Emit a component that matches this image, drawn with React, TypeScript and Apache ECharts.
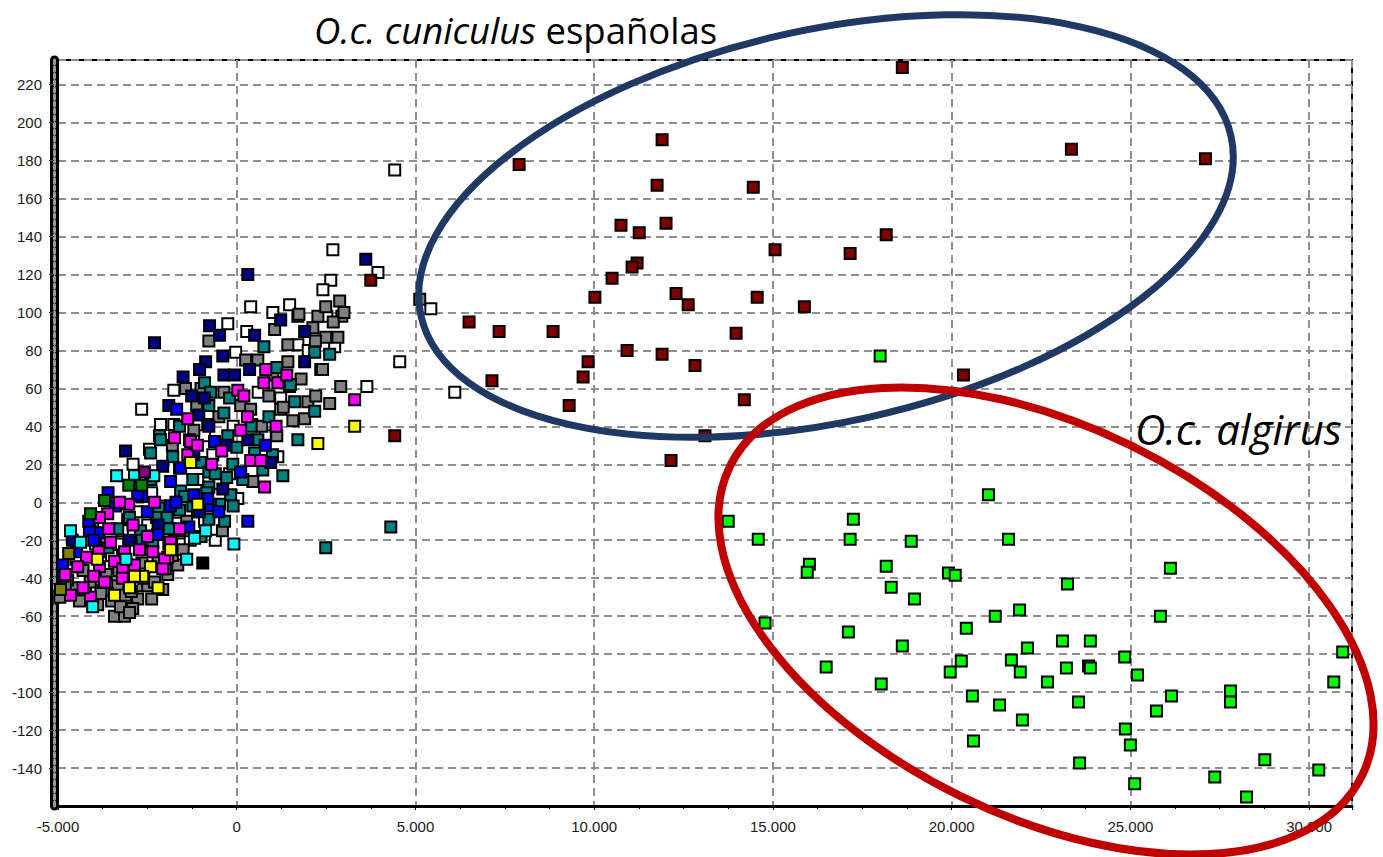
import React, { useEffect, useRef } from "react";
import * as echarts from "echarts";

// ---- data (x in units, y in units) ----
const whitePts = [[-250,94],[280,90],[-30,79],[-1760,59],[-2660,49],[-2130,41],[-1760,41],[-900,35],[-2440,28],[2520,98],[2740,82],[2350,70],[1230,55],[1230,49],[3640,61],[4560,74],[2690,133],[3950,121],[2630,117],[2410,112],[390,103],[1480,104],[1010,100],[4420,175],[5430,102],[6100,58],[1150,24],[-2380,5],[-1650,-11],[-3330,-22],[-2490,-12],[-1510,-22],[-3050,-9],[-2070,-14],[-1090,12],[30,2],[-670,25],[1710,83],[-500,10],[-1100,-5],[-4500,-30],[-3950,-22],[-3200,-15],[-2800,-5],[-2500,-30],[-1300,-20],[-900,-10],[-100,40],[600,58],[-1600,18],[-2900,20],[2000,80],[800,35],[-600,-20],[-3500,-28],[-2000,-2],[-200,15]];
const grayPts = [[-780,85],[250,75],[-1430,60],[-360,58],[-1120,51],[110,51],[390,49],[420,41],[1710,98],[2270,98],[2940,98],[2490,87],[2830,87],[1430,74],[1480,61],[900,56],[1990,53],[2210,56],[2600,52],[2910,61],[1900,44],[1570,43],[1120,35],[1060,91],[1740,99],[2880,106],[2490,103],[5120,107],[450,11],[-4030,-11],[-4590,-45],[-4230,-46],[-3720,-44],[-3330,-44],[-2770,-44],[-2490,-44],[-3110,-49],[-2380,-51],[-3420,-60],[-3140,-60],[-5010,-38],[-4730,-41],[-4310,-51],[-3890,-54],[-3610,-48],[-2770,-51],[-2070,-46],[-2910,-56],[-3890,-41],[-1930,-38],[-1650,-33],[2130,92],[1430,83],[590,75],[1010,67],[-4800,-44],[-4400,-52],[-4100,-42],[-3800,-48],[-3500,-52],[-3250,-55],[-2950,-47],[-2600,-40],[-2300,-42],[-2000,-35],[-1800,-28],[-1500,-25],[-3650,-38],[-4300,-36],[-2200,-30],[700,40],[1300,50],[2400,70],[2700,95],[3000,100],[1800,65],[-500,45],[-1800,30],[-1200,38],[-400,-15],[-1400,-10],[-3300,-36],[-2650,-32],[-4950,-50],[-3000,-58],[2200,85],[-1000,60]];
const tealPts = [[760,82],[2180,79],[1120,71],[-900,63],[-730,58],[-780,51],[-360,47],[-2160,35],[-250,35],[1620,53],[2180,48],[0,29],[500,26],[-2130,33],[-1320,33],[-2410,26],[-1790,24],[-1010,21],[-780,16],[-280,13],[170,12],[1290,14],[-1230,12],[-780,8],[-170,4],[-480,-1],[-1600,-4],[-2180,-3],[-1570,6],[-840,5],[-1230,-2],[-340,-10],[-780,-9],[-2240,-8],[-1740,-15],[-2690,-15],[-2350,-21],[-1460,3],[4310,-13],[2490,-24],[-3330,-14],[590,33],[1710,33],[-110,20],[730,17],[-3600,-24],[-2650,-20],[-1950,-8],[-1450,-15],[-1000,-18],[-600,15],[-200,55],[400,40],[900,45],[1500,62],[2600,78],[-1600,40],[-2400,12],[-3000,-8],[-1900,-14],[-100,-2],[1000,25]];
const navyPts = [[-2300,84],[-760,93],[-480,88],[-870,74],[-390,77],[-1040,70],[-360,67],[-60,67],[360,70],[-1260,56],[-1900,51],[-1060,46],[-810,41],[310,120],[3610,128],[1230,96],[1900,90],[1900,74],[-3110,27],[-2070,19],[-1040,-5],[950,21],[-780,40],[-390,7],[310,33],[-4600,-20],[-3000,-20],[-2200,-12],[-1200,25],[-300,30],[500,88],[-1500,66],[-900,55]];
const bluePts = [[-1680,49],[-620,32],[-1570,18],[-2660,3],[-1850,-2],[-3860,-16],[-4120,-15],[-1340,-13],[-4480,-26],[-4870,-33],[-4870,-39],[310,-10],[-3390,-2],[-4140,-10],[-1850,11],[-2770,4],[-1200,4],[-730,-2],[110,16],[-810,2],[-2210,-17],[-4000,-20],[-2500,-5],[-1700,0],[-500,-5],[800,30],[-3600,5]];
const magentaPts = [[30,59],[200,56],[760,63],[1150,63],[110,38],[-1370,44],[-1740,34],[-1290,32],[-420,27],[-1370,25],[-700,20],[780,8],[390,22],[670,22],[810,70],[1400,67],[3300,54],[-3020,-1],[-3610,-6],[-3580,-14],[-3530,-21],[-3140,-26],[-2720,-25],[-2350,-26],[-1900,-22],[-3860,-26],[-4200,-29],[-4450,-34],[-3420,-31],[-3190,-35],[-3840,-34],[-2860,-33],[-1930,-29],[-4000,-39],[-4650,-49],[-4090,-50],[-1850,-21],[-2020,-30],[-3280,0],[-3840,-8],[-2070,-35],[-4300,-45],[-3700,-42],[-2500,-18],[-1600,-14],[-2900,-12],[-1100,30],[300,45],[1100,40],[-4800,-38],[-2300,0],[-3200,-40]];
const cyanPts = [[-3360,14],[-2860,14],[-2320,14],[-4370,-21],[-80,-22],[-870,-15],[-1180,-19],[-4030,-55],[-4650,-15],[-3100,-30],[-1400,-30]];
const darkGreenPts = [[-3020,9],[-2660,9],[-3700,1],[-4090,-6]];
const yellowPts = [[-1090,-1],[-1850,-25],[-2410,-34],[-2630,-39],[-2860,-39],[-3420,-49],[3300,40],[2270,31],[-1290,21],[-3900,-30],[-3000,-45],[-2200,-45]];
const olivePts = [[-4700,-27],[-4930,-46]];
const blackPts = [[-950,-32]];
const purplePts = [[-2580,16]];
const maroonPts = [[18620,229],[11900,191],[7900,178],[23350,186],[27100,181],[11760,167],[14450,166],[10750,146],[11260,142],[12010,147],[18170,141],[15060,133],[17160,131],[11200,126],[11060,124],[10500,118],[12290,110],[12630,104],[10020,108],[14560,108],[15880,103],[6500,95],[7340,90],[8850,90],[13970,89],[10920,80],[11900,78],[9830,74],[12820,72],[9690,66],[7140,64],[20330,67],[14200,54],[9300,51],[13100,35],[12150,22],[3750,117],[4420,35]];
const limePts = [[18000,77],[21030,4],[13750,-10],[17250,-9],[14590,-19.5],[17160,-19.5],[18870,-20.5],[21590,-19.5],[16020,-32.6],[15960,-36.8],[18170,-33.7],[19910,-37.3],[20100,-38.4],[26120,-34.7],[23240,-43.1],[18310,-44.7],[18960,-51],[21900,-56.8],[21220,-60],[25840,-60],[14780,-63.6],[20410,-66.3],[18620,-75.7],[17110,-68.4],[16490,-86.8],[19960,-89.4],[20270,-83.6],[22120,-76.8],[21670,-83.1],[21920,-89.4],[22680,-94.7],[23100,-73.1],[23880,-73.1],[23210,-87.3],[23830,-86.3],[23880,-87.3],[24840,-81.5],[25200,-91],[30940,-78.9],[30690,-94.7],[20580,-102],[21340,-106.8],[23550,-105.2],[21980,-114.7],[26150,-102],[25730,-110],[27800,-99.4],[27800,-105.2],[24860,-119.4],[20610,-125.7],[25000,-127.8],[28760,-135.7],[23580,-137.3],[27360,-144.7],[30270,-141],[25120,-148.3],[28250,-155.2],[18030,-95.7]];

const groups: [string, number[][], string][] = [
  ["white", whitePts, "#ffffff"],
  ["gray", grayPts, "#808080"],
  ["teal", tealPts, "#008080"],
  ["navy", navyPts, "#000080"],
  ["blue", bluePts, "#0000ff"],
  ["magenta", magentaPts, "#ff00ff"],
  ["cyan", cyanPts, "#00ffff"],
  ["green", darkGreenPts, "#008000"],
  ["yellow", yellowPts, "#ffff00"],
  ["olive", olivePts, "#808000"],
  ["black", blackPts, "#000000"],
  ["purple", purplePts, "#800080"],
  ["maroon", maroonPts, "#800000"],
  ["lime", limePts, "#00ff00"],
];

const X_MIN = -5000, X_MAX = 31200, Y_MIN = -160, Y_MAX = 233;

function fmtX(v: number): string {
  if (v % 5000 !== 0) return "";
  if (v === 0) return "0";
  const s = Math.abs(v).toString();
  const t = s.replace(/\B(?=(\d{3})+(?!\d))/g, ".");
  return (v < 0 ? "-" : "") + t;
}

export default function App() {
  const ref = useRef<HTMLDivElement>(null);
  useEffect(() => {
    if (!ref.current) return;
    const chart = echarts.init(ref.current, undefined, { renderer: "svg" });
    const labelFont = { fontFamily: "Liberation Sans, Arial, sans-serif", fontSize: 15, color: "#1a1a1a" };
    chart.setOption({
      animation: false,
      backgroundColor: "#ffffff",
      grid: { left: 58, right: 31, top: 60, bottom: 51, show: true, borderColor: "#000", borderWidth: 2, backgroundColor: "transparent" },
      xAxis: [{
        type: "value", min: X_MIN, max: X_MAX, interval: 5000,
        axisLine: { show: true, onZero: false, lineStyle: { color: "#000", width: 3 } },
        axisTick: { show: true, length: 4, lineStyle: { color: "#000", width: 1 } },
        minorTick: { show: true, splitNumber: 4, length: 3, lineStyle: { color: "#000" } },
        axisLabel: { ...labelFont, margin: 13, formatter: fmtX, showMaxLabel: false },
        splitLine: { show: true, lineStyle: { color: "#8f8f8f", width: 2, type: [8, 5] } },
      }],
      yAxis: [{
        type: "value", min: Y_MIN, max: Y_MAX, interval: 20, position: "left", offset: 4,
        axisLine: { show: true, onZero: false, lineStyle: { color: "#000", width: 9 } },
        axisTick: { show: true, length: 5, lineStyle: { color: "#444", width: 1 } },
        axisLabel: { ...labelFont, margin: 12, formatter: (v: number) => (v % 20 === 0 && v > Y_MIN ? String(v) : ""), showMaxLabel: false, showMinLabel: false },
        splitLine: { show: true, lineStyle: { color: "#8f8f8f", width: 2, type: [8, 5] } },
      }, {
        type: "value", min: Y_MIN, max: Y_MAX, position: "left", offset: 4,
        axisLine: { show: true, onZero: false, lineStyle: { color: "#9a9a9a", width: 3, type: [4, 3] } },
        axisTick: { show: false }, axisLabel: { show: false }, splitLine: { show: false },
      }],
      series: groups.map(([name, data, color]) => ({
        type: "scatter", name, data, symbol: "rect", symbolSize: 11,
        itemStyle: { color, borderColor: "#000", borderWidth: 2, opacity: 1 },
        emphasis: { disabled: true },
      })),
      graphic: [
        { type: "ellipse", x: 826, y: 226, rotation: 0.218, z: 100,
          shape: { cx: 0, cy: 0, rx: 415, ry: 196 },
          style: { fill: "none", stroke: "#1f3864", lineWidth: 7 } },
        { type: "ellipse", x: 1046, y: 621, rotation: -0.455, z: 100,
          shape: { cx: 0, cy: 0, rx: 352, ry: 195 },
          style: { fill: "none", stroke: "#c00000", lineWidth: 8 } },
        { type: "text", x: 314, y: 30, z: 101,
          style: {
            text: "{i|O.c. cuniculus}{n| españolas}",
            verticalAlign: "middle", align: "left",
            rich: {
              i: { fontFamily: "Open Sans, sans-serif", fontSize: 36.5, fontStyle: "italic", fill: "#000" },
              n: { fontFamily: "Open Sans, sans-serif", fontSize: 36.5, fill: "#000" },
            },
          } },
        { type: "text", x: 1135, y: 428, z: 101,
          style: { text: "O.c. algirus", fontFamily: "Open Sans, sans-serif", fontSize: 42, fontStyle: "italic", fill: "#000", verticalAlign: "middle", align: "left" } },
      ],
    });
    return () => chart.dispose();
  }, []);
  return <div ref={ref} style={{ position: "fixed", left: 0, top: 0, width: 1383, height: 857 }} />;
}
